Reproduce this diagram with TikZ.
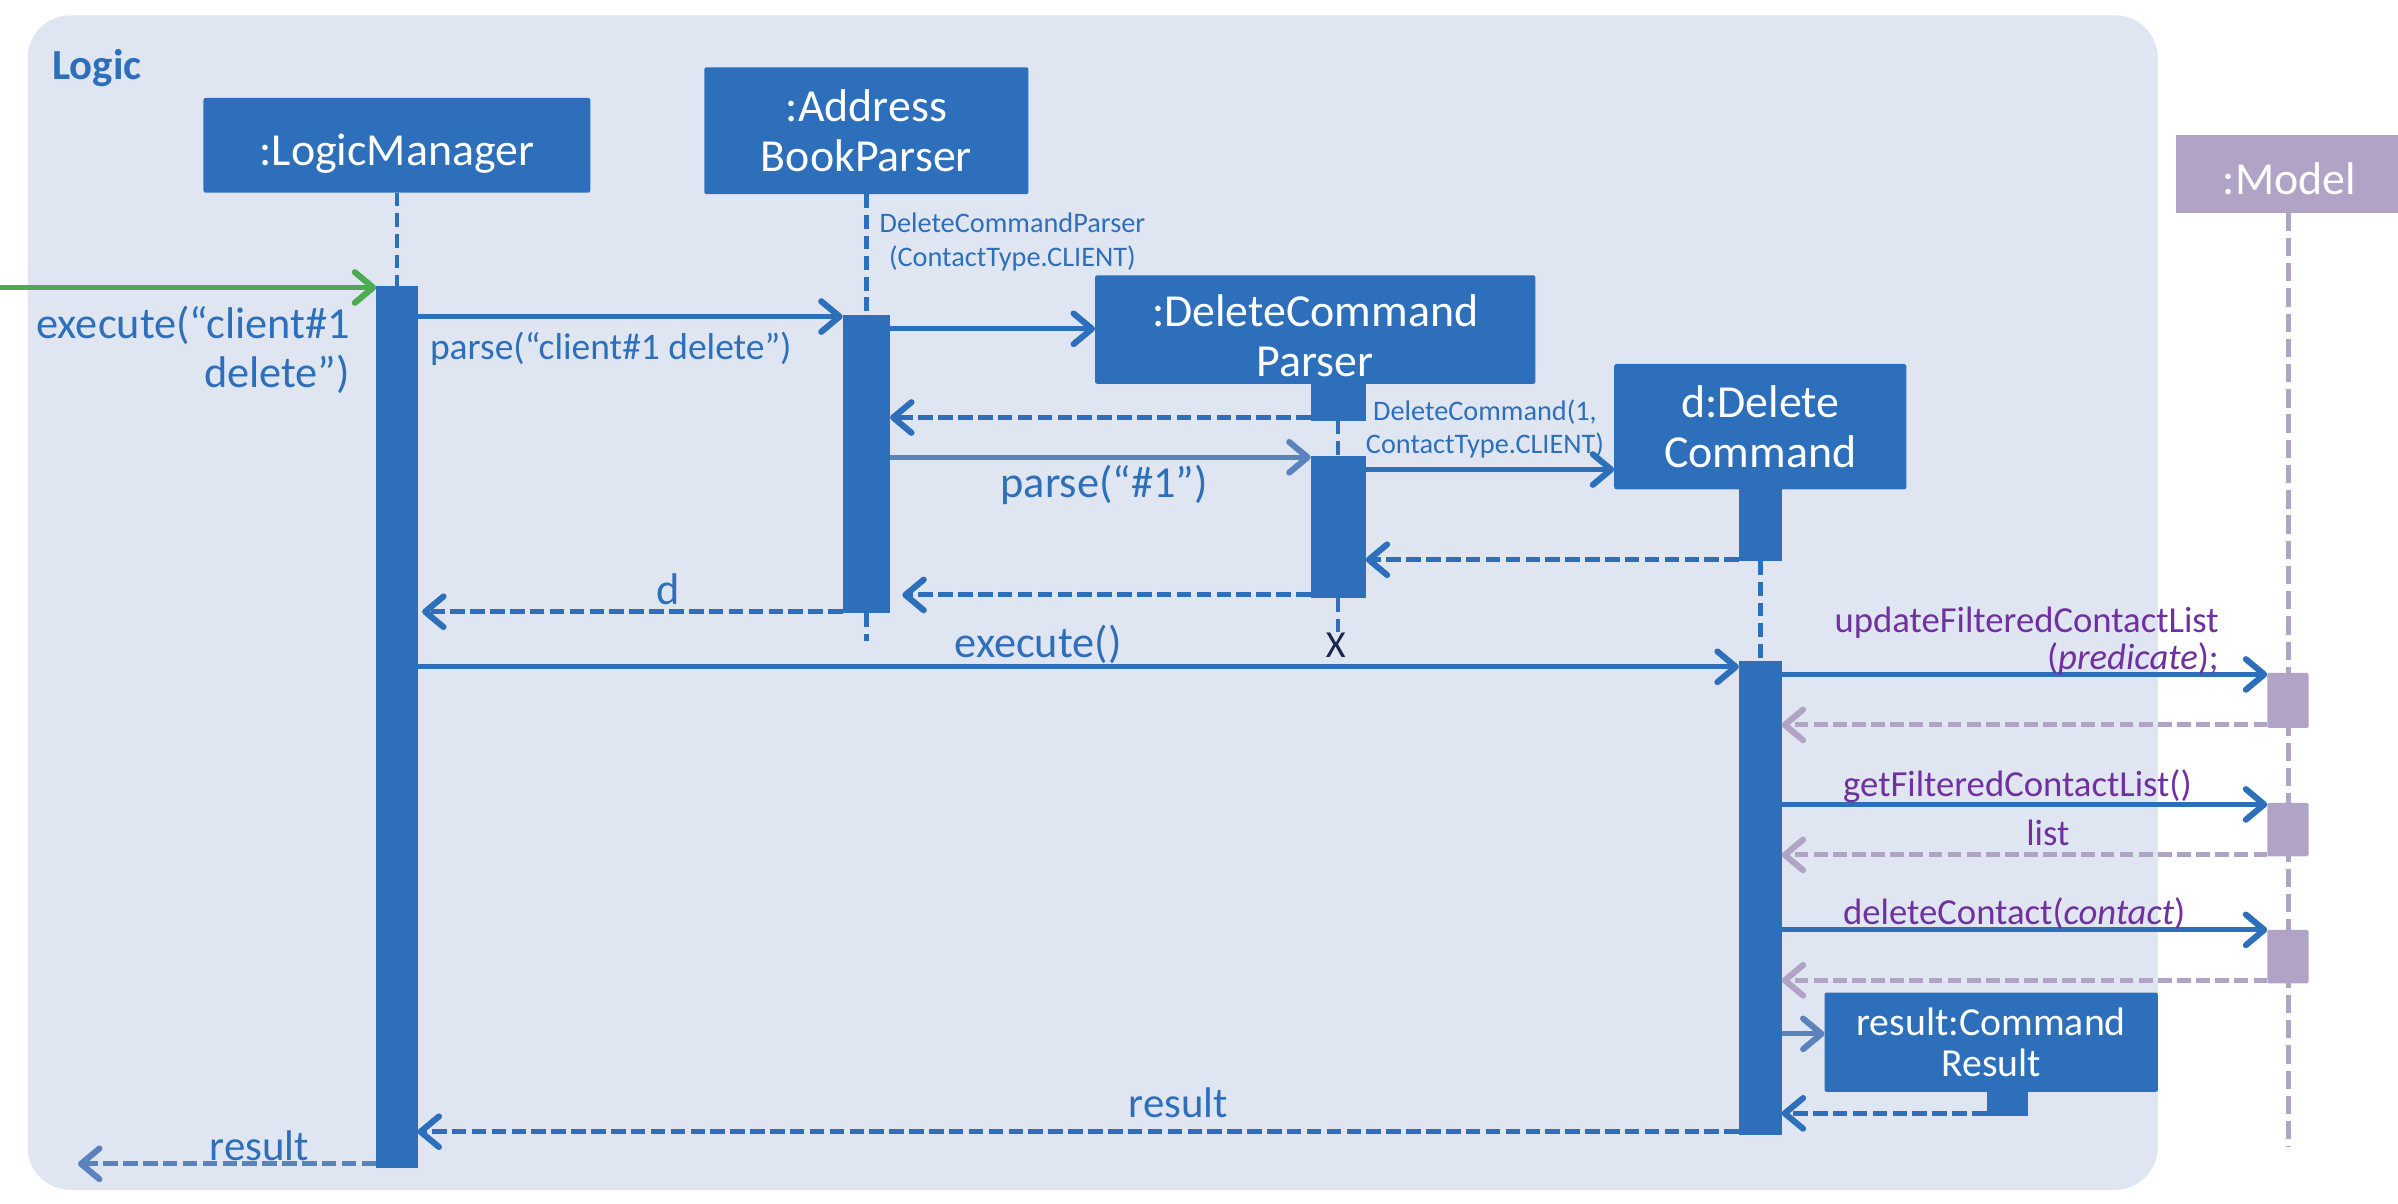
\documentclass[tikz,border=0pt]{standalone}
\usepackage{fontspec}
\setmainfont{Carlito}
\usetikzlibrary{arrows.meta}
\definecolor{bgc}{HTML}{DFE6F1}
\definecolor{boxc}{HTML}{2D6FBA}
\definecolor{lightarr}{HTML}{5B82BD}
\definecolor{lav}{HTML}{B1A3C6}
\definecolor{purp}{HTML}{7030A0}
\definecolor{grn}{HTML}{4DAA52}
\definecolor{navy}{HTML}{1A2550}
\newcommand{\fsz}[2]{\fontsize{#1}{#2}\selectfont}
\newcommand{\tstrut}[1]{\rule{0pt}{#1}}
\begin{document}
\begin{tikzpicture}[x=1pt,y=-1pt,
  lbox/.style={fill=boxc, text=white, inner sep=0pt, outer sep=0pt, rounded corners=1.5pt, align=center, font=\fsz{30}{33}},
  mbox/.style={fill=lav, text=white, inner sep=0pt, outer sep=0pt, font=\fsz{30}{33}},
  act/.style={fill=boxc, inner sep=0pt, outer sep=0pt},
  mact/.style={fill=lav, inner sep=0pt, outer sep=0pt, rounded corners=1pt, minimum width=27pt, minimum height=36pt, anchor=north},
  life/.style={draw=boxc, line width=3pt, dash pattern=on 9pt off 4.5pt},
  mlife/.style={draw=lav, line width=3pt, dash pattern=on 12pt off 4.5pt},
  barb/.style={-{Straight Barb[length=12pt,width=20pt,line width=4pt,round]}},
  msg/.style={draw=boxc, line width=3.2pt, barb},
  ret/.style={draw=boxc, line width=3.3pt, dash pattern=on 9.5pt off 3.5pt, barb},
  mret/.style={draw=lav, line width=3.3pt, dash pattern=on 9pt off 3.5pt, barb},
  lbl/.style={text=boxc, inner sep=0pt, font=\fsz{29}{32}},
  slbl/.style={text=boxc, inner sep=0pt, font=\fsz{18.5}{22}, align=center},
  plbl/.style={text=purp, inner sep=0pt, font=\fsz{24}{24}},
]
\useasboundingbox (0,0) rectangle (1568,787);
\fill[bgc, rounded corners=28pt] (18,10) rectangle (1411,778);
\node[text=boxc, font=\bfseries\fsz{28}{30}, anchor=base west, inner sep=0pt] (logic) at (34,52) {Logic};

% heads
\node[lbox, minimum width=253pt, minimum height=62pt] (lm) at (259.5,95) {\tstrut{31pt}:LogicManager};
\node[lbox, minimum width=212pt, minimum height=83pt] (abp) at (566.5,85.5) {:Address\\BookParser};
\node[lbox, minimum width=288pt, minimum height=71pt] (dcp) at (860,215.5) {\tstrut{29pt}:DeleteCommand\\Parser};
\node[lbox, minimum width=191pt, minimum height=82pt] (dc) at (1151,279) {d:Delete\\Command};
\node[mbox, minimum width=148pt, minimum height=51pt] (model) at (1497,113.5) {\tstrut{28pt}:Model};
\node[lbox, font=\fsz{26}{27}, minimum width=218pt, minimum height=65pt] (cr) at (1302,681.5) {result:Command\\Result};

% end points
\coordinate (abpEnd) at (566.5,419);
\coordinate (modelEnd) at (1496.5,750);
\coordinate (inStart) at (0,188);
\coordinate (outEnd) at (51,761);

% activations
\node[act, minimum width=27pt, minimum height=577pt, anchor=north] (lmAct) at (259.5,187) {};
\node[act, minimum width=31pt, minimum height=195pt, anchor=north] (abpAct) at (566.5,206) {};
\node[act, minimum width=36pt, minimum height=24pt, anchor=north] (dcpHead) at (875,251) {};
\node[act, minimum width=36pt, minimum height=93pt, anchor=north] (dcpAct) at (875,298) {};
\node[act, minimum width=28pt, minimum height=48pt, anchor=north] (dcHead) at (1151,319) {};
\node[act, minimum width=28pt, minimum height=310pt, anchor=north] (dcAct) at (1151,432) {};
\node[act, minimum width=27pt, minimum height=17pt, anchor=north] (crHead) at (1312.5,713) {};
\node[text=navy, font=\fsz{25}{25}, inner sep=0pt] (xmark) at (873.5,422) {X};

% lifelines
\draw[life] (lm.south) -- (lmAct.north);
\draw[life] (abp.south) -- (abpAct.north);
\draw[life] (abpAct.south) -- (abpEnd);
\draw[life] (dcpHead.south) -- (dcpAct.north);
\draw[life] (dcpAct.south) -- (dcpAct.south |- xmark.north);
\draw[life] (dcHead.south) -- (dcAct.north);
\draw[mlife] (model.south -| modelEnd) -- (modelEnd);
\node[mact] (mAct1) at (1496,440) {};
\node[mact, minimum height=35pt] (mAct2) at (1496,525) {};
\node[mact, minimum height=35pt] (mAct3) at (1496,608) {};

% y levels
\coordinate (y207) at (0,207);
\coordinate (y215) at (0,215);
\coordinate (y274) at (0,273);
\coordinate (y299) at (0,299);
\coordinate (y307) at (0,307);
\coordinate (y366) at (0,366);
\coordinate (y389) at (0,389);
\coordinate (y400) at (0,400);
\coordinate (y436) at (0,436);
\coordinate (y441) at (0,441);
\coordinate (y474) at (0,474);
\coordinate (y526) at (0,526);
\coordinate (y559) at (0,559);
\coordinate (y608) at (0,608);
\coordinate (y641) at (0,641);
\coordinate (y676) at (0,676);
\coordinate (y728) at (0,728);
\coordinate (y740) at (0,740);
\coordinate (y761) at (0,761);

% messages
\draw[msg, draw=grn] (inStart) -- (lmAct.west |- inStart);
\node[lbl, align=right, anchor=north east] (l1) at (229,200) {execute(“client\#1\\delete”)};

\draw[msg] (lmAct.east |- y207) -- (abpAct.west |- y207);
\node[lbl, font=\fsz{24.5}{26}, anchor=base west] (l2) at (281,235) {parse(“client\#1 delete”)};

\draw[msg] (abpAct.east |- y215) -- (dcp.west |- y215);
\node[slbl, anchor=north] (l3) at (662,139) {DeleteCommandParser\\(ContactType.CLIENT)};

\draw[ret] (dcpHead.west |- y274) -- (abpAct.east |- y274);

\draw[msg, draw=lightarr] (abpAct.east |- y299) -- (dcpAct.west |- y299);
\node[lbl, anchor=base west] (l5) at (654,325.5) {parse(“\#1”)};

\draw[msg] (dcpAct.east |- y307) -- (dc.west |- y307);
\node[slbl, anchor=north] (l6) at (971,261) {DeleteCommand(1,\\ContactType.CLIENT)};

\draw[ret] (dcHead.west |- y366) -- (dcpAct.east |- y366);
\draw[ret, shorten >=8pt] (dcpAct.west |- y389) -- (abpAct.east |- y389);
\draw[ret, shorten >=3pt] (abpAct.west |- y400) -- (lmAct.east |- y400);
\node[lbl, anchor=base] (l9) at (437,395) {d};

\draw[msg] (lmAct.east |- y436) -- (dcAct.west |- y436);
\node[lbl, anchor=base west] (l10) at (624,430) {execute()};

\draw[msg] (dcAct.east |- y441) -- (mAct1.west |- y441);
\node[plbl, align=right, anchor=north east] (l11) at (1451,397) {updateFilteredContactList\\(\textit{predicate});};
\draw[mret] (mAct1.west |- y474) -- (dcAct.east |- y474);

\draw[msg] (dcAct.east |- y526) -- (mAct2.west |- y526);
\node[plbl, anchor=base west] (l13) at (1205,521) {getFilteredContactList()};
\draw[mret] (mAct2.west |- y559) -- (dcAct.east |- y559);
\node[plbl, anchor=base] (l14) at (1339,553) {list};

\draw[msg] (dcAct.east |- y608) -- (mAct3.west |- y608);
\node[plbl, anchor=base west] (l15) at (1205,604.5) {deleteContact(\textit{contact})};
\draw[mret] (mAct3.west |- y641) -- (dcAct.east |- y641);

\draw[msg, draw=lightarr] (dcAct.east |- y676) -- (cr.west |- y676);
\draw[ret] (crHead.west |- y728) -- (dcAct.east |- y728);

\draw[ret] (dcAct.west |- y740) -- (lmAct.east |- y740);
\node[lbl, font=\fsz{28}{30}, anchor=base west] (l19) at (738,731) {result};

\draw[ret, draw=lightarr] (lmAct.west |- y761) -- (outEnd);
\node[lbl, font=\fsz{28}{30}, anchor=base west] (l20) at (137,759) {result};
\end{tikzpicture}
\end{document}
